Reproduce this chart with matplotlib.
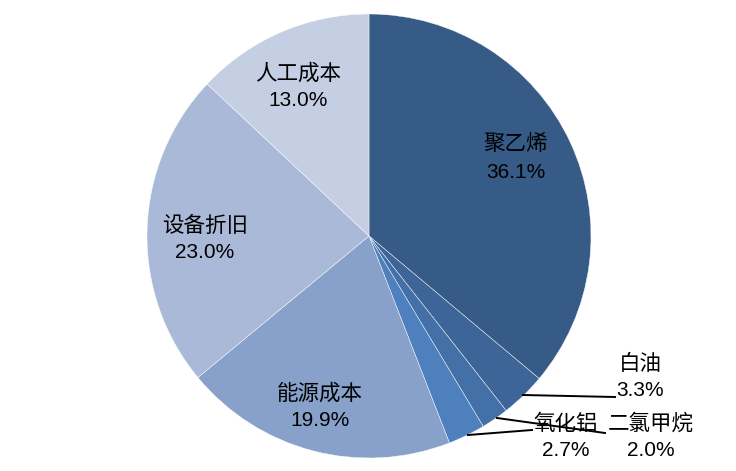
import numpy as np
import matplotlib
matplotlib.use("Agg")
import matplotlib.pyplot as plt

# 成本构成
labels = ["聚乙烯", "白油", "二氯甲烷", "氧化铝", "能源成本", "设备折旧", "人工成本"]
shares = [36.1, 3.3, 2.0, 2.7, 19.9, 23.0, 13.0]
colors = ["#365B87", "#3D6598", "#4470A8", "#4E80BE", "#87A1CB", "#AAB9D7", "#C4CFE3"]

W, H = 736, 471
fig = plt.figure(figsize=(W / 100, H / 100), dpi=100)
ax = fig.add_axes([0, 0, 1, 1])

cx, cy, R = 369, H - 236, 222
ax.pie(shares, colors=colors, startangle=90, counterclock=False,
       center=(cx, cy), radius=R, frame=True,
       wedgeprops=dict(edgecolor="white", linewidth=0.3))
ax.set_xlim(0, W)
ax.set_ylim(0, H)
ax.axis("off")

fam = ["Liberation Sans", "Noto Sans CJK SC", "DejaVu Sans"]

def lab(x, y, name, val):
    # 两行标签: 名称 + 百分比 (像素坐标, y 向下)
    ax.text(x, H - y, name, ha="center", va="center", fontsize=15.5, family=fam)
    ax.text(x, H - y - 27, f"{val:.1f}%", ha="center", va="center", fontsize=15, family=fam)

inner = {"聚乙烯": (516, 145), "能源成本": (320, 394), "设备折旧": (205, 226), "人工成本": (298, 74)}
outer = {"白油": (640, 364), "二氯甲烷": (651, 424), "氧化铝": (566, 424)}

for name, val in zip(labels, shares):
    if name in inner:
        lab(*inner[name], name, val)
    else:
        lab(*outer[name], name, val)

# 引导线
leaders = [((523, 395), (615, 397)), ((497, 418), (605, 433)), ((468, 435), (532, 430))]
for (x0, y0), (x1, y1) in leaders:
    ax.plot([x0, x1], [H - y0, H - y1], color="black", lw=1.4)

fig.savefig("out.png", dpi=100)
